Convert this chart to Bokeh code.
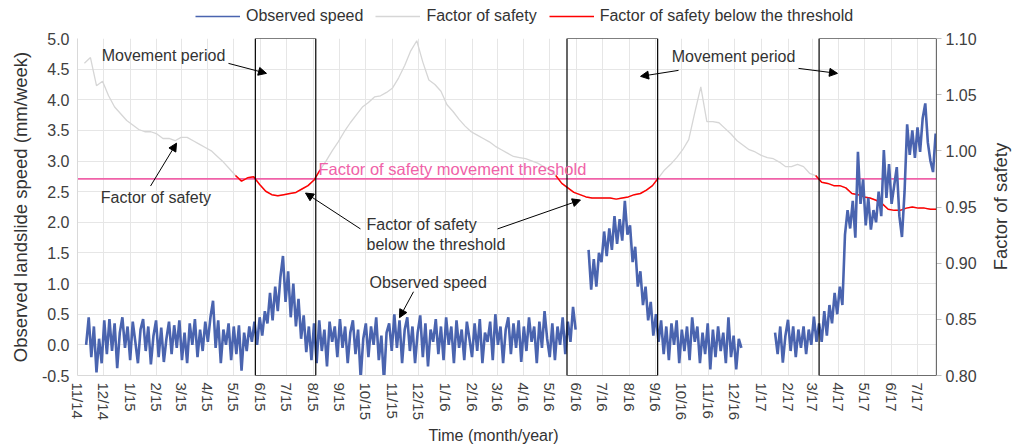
import numpy as np
import pandas as pd
from math import pi
from bokeh.plotting import figure
from bokeh.layouts import column, row
from bokeh.models import (Range1d, LinearAxis, SingleIntervalTicker, MonthsTicker,
                          DatetimeTickFormatter, NumeralTickFormatter, BoxAnnotation,
                          Span, Label, Arrow, NormalHead, Legend, LegendItem, ColumnDataSource, Title)
from bokeh.embed import file_html
from bokeh.resources import INLINE

# ---------------- data ----------------
axis_start = "2014-11-01"
axis_end = "2017-07-23"

# factor of safety, weekly samples starting 2014-11-09
fos_start = "2014-11-09"
fos_step_days = 7
fos_values = [
    1.078, 1.083, 1.058, 1.062, 1.049, 1.039, 1.033, 1.027, 1.023, 1.019,
    1.017, 1.017, 1.015, 1.011, 1.011, 1.009, 1.012, 1.012, 1.009, 1.006,
    1.003, 1.000, 0.995, 0.990, 0.984, 0.978, 0.973, 0.976, 0.977, 0.970,
    0.964, 0.961, 0.960, 0.961, 0.962, 0.963, 0.966, 0.969, 0.974, 0.983,
    0.991, 1.000, 1.008, 1.017, 1.025, 1.032, 1.039, 1.043, 1.048, 1.049,
    1.052, 1.056, 1.065, 1.076, 1.089, 1.098, 1.079, 1.063, 1.059, 1.053,
    1.041, 1.035, 1.028, 1.022, 1.017, 1.014, 1.011, 1.008, 1.004, 1.001,
    0.998, 0.995, 0.994, 0.993, 0.991, 0.989, 0.986, 0.983, 0.978, 0.971,
    0.967, 0.963, 0.961, 0.959, 0.958, 0.958, 0.958, 0.958, 0.957, 0.958,
    0.959, 0.961, 0.962, 0.965, 0.969, 0.976, 0.983, 0.988, 0.994, 1.001,
    1.010, 1.034, 1.057, 1.026, 1.026, 1.025, 1.020, 1.015, 1.009, 1.005,
    1.001, 0.999, 0.996, 0.994, 0.993, 0.990, 0.986, 0.986, 0.988, 0.986,
    0.980, 0.978, 0.972, 0.971, 0.969, 0.969, 0.967, 0.962, 0.961, 0.959,
    0.958, 0.956, 0.953, 0.948, 0.947, 0.947, 0.949, 0.950, 0.949, 0.949,
    0.948, 0.948,
]
fos_threshold = 0.975

# observed speed (mm/week), samples every 3 days, three recorded segments
speed_step_days = 3
speed1_start = "2014-11-11"
speed1 = [
    0.00, 0.45, -0.20, 0.30, -0.45, 0.10, -0.30, 0.40, -0.15, 0.42,
    -0.10, 0.35, -0.38, 0.20, 0.45, -0.05, 0.30, -0.25, 0.38, 0.05,
    -0.30, 0.25, 0.42, -0.10, 0.30, -0.32, 0.15, 0.40, -0.20, 0.28,
    -0.28, 0.10, 0.38, -0.15, 0.32, -0.05, 0.40, -0.25, 0.20, -0.30,
    0.35, 0.00, 0.42, -0.20, 0.25, -0.10, 0.38, 0.05, 0.45, 0.72,
    -0.05, 0.40, -0.30, 0.25, 0.00, 0.35, -0.25, 0.30, -0.15, 0.32,
    -0.42, 0.20, -0.10, 0.30, 0.05, 0.38, 0.00, 0.45, 0.15, 0.55,
    0.35, 0.85, 0.40, 0.95, 0.55, 1.10, 1.45, 0.70, 1.20, 0.45,
    1.00, 0.30, 0.75, 0.10, 0.48, -0.12, 0.30, -0.25, 0.35, -0.30,
    0.40, -0.10, 0.25, -0.35, 0.38, 0.05, 0.30, -0.20, 0.42, -0.05,
    0.30, -0.30, 0.20, 0.40, -0.15, 0.25, -0.55, 0.10, 0.35, -0.20,
    0.30, 0.00, 0.45, -0.25, 0.15, -0.60, 0.20, 0.35, -0.10, 0.50,
    -0.05, 0.40, -0.30, 0.25, 0.45, -0.10, 0.30, -0.30, 0.20, 0.48,
    -0.20, 0.35, -0.35, 0.25, 0.05, 0.42, -0.15, 0.30, -0.25, 0.45,
    0.00, 0.30, -0.30, 0.40, -0.05, 0.25, -0.25, 0.38, 0.10, -0.20,
    0.35, -0.10, 0.42, -0.30, 0.20, 0.05, 0.38, -0.25, 0.50, 0.00,
    0.30, -0.30, 0.25, 0.45, -0.15, 0.35, -0.05, 0.40, -0.28, 0.30,
    -0.10, 0.45, 0.05, 0.30, -0.30, 0.38, -0.05, 0.55, 0.10, -0.20,
    0.35, -0.25, 0.30, 0.00, 0.45, -0.15, 0.38, 0.05, 0.62, 0.25,
]
speed2_start = "2016-06-15"
speed2 = [
    1.55, 0.90, 1.40, 0.95, 1.50, 1.35, 1.85, 1.45, 1.90, 1.55,
    2.10, 1.65, 2.05, 1.70, 2.35, 1.80, 1.95, 1.35, 1.60, 0.95,
    1.20, 0.65, 0.95, 0.40, 0.70, 0.15, 0.50, 0.05, 0.40, -0.15,
    0.30, -0.25, 0.35, 0.00, 0.40, -0.30, 0.25, -0.10, 0.30, -0.25,
    0.45, 0.05, 0.30, -0.30, 0.20, -0.15, 0.35, -0.40, 0.25, -0.20,
    0.30, -0.10, 0.20, -0.30, 0.45, -0.20, 0.15, -0.40, 0.10, -0.05,
]
speed3_start = "2017-01-17"
speed3 = [
    0.20, -0.15, 0.30, -0.29, 0.15, 0.41, -0.10, 0.30, -0.20, 0.25,
    -0.05, 0.30, -0.15, 0.25, 0.00, 0.46, 0.05, 0.35, 0.05, 0.55,
    0.15, 0.65, 0.35, 0.85, 0.50, 0.95, 0.65, 1.80, 2.20, 1.90,
    2.35, 1.75, 3.15, 2.30, 2.70, 1.95, 2.40, 1.88, 2.20, 2.00,
    2.50, 2.10, 3.18, 2.40, 2.95, 2.30, 2.60, 2.90, 2.10, 1.76,
    2.50, 3.60, 3.10, 3.50, 3.05, 3.55, 3.15, 3.70, 3.94, 3.30,
    3.00, 2.82, 3.45,
]

movement_starts = ["2015-05-26", "2016-05-21", "2017-03-09"]
movement_ends = ["2015-08-04", "2016-09-03", "2017-07-23"]

series_names = ["Observed speed", "Factor of safety", "Factor of safety below the threshold"]

# ---------------- styles ----------------
FONT = "Liberation Sans"
BLUE = "#4A64AF"
GREY_LINE = "#D6D6D6"
RED = "#FF0000"
PINK = "#F062A8"
TXT = "#333333"
GRID = "#E6E6E6"

LEG_H = 26          # legend strip height
MAIN_H = 444 - LEG_H
TITLE_W = 36        # strip for the right axis title
MAIN_W = 1021 - TITLE_W
B_LEFT, B_TOP, B_BOTTOM = 77, 38 - LEG_H, 68
B_RIGHT = MAIN_W - 936

origin = pd.Timestamp(axis_start)


def ms(days):
    return (origin + pd.Timedelta(days=days)).value / 1e6


def ms_date(s):
    return pd.Timestamp(s).value / 1e6


# ---------------- derived series ----------------
fos_dates = pd.date_range(fos_start, periods=len(fos_values), freq=f"{fos_step_days}D")
fos = np.array(fos_values, dtype=float)
below = fos < fos_threshold
near = below.copy()
near[1:] |= below[:-1]
near[:-1] |= below[1:]
fos_red = np.where(near, fos, np.nan)

sp_x, sp_y = [], []
for st, vals in [(speed1_start, speed1), (speed2_start, speed2), (speed3_start, speed3)]:
    d = pd.date_range(st, periods=len(vals), freq=f"{speed_step_days}D")
    sp_x.extend(list(d))
    sp_y.extend(vals)
    sp_x.append(d[-1] + pd.Timedelta(days=1))
    sp_y.append(np.nan)

fos_src = ColumnDataSource(dict(x=fos_dates, y=fos, r=fos_red))
sp_src = ColumnDataSource(dict(x=pd.to_datetime(sp_x), y=np.array(sp_y, dtype=float)))

styles = [dict(line_color=BLUE, line_width=2.6), dict(line_color=GREY_LINE, line_width=1.3),
          dict(line_color=RED, line_width=1.5)]
swatch_styles = [dict(line_color=BLUE, line_width=1.5), dict(line_color=GREY_LINE, line_width=1.3),
                 dict(line_color=RED, line_width=1.5)]

# ---------------- legend strip (top) ----------------
leg = figure(width=1021, height=LEG_H, x_range=Range1d(0, 1), y_range=Range1d(0, 1),
             output_backend="svg", toolbar_location=None,
             min_border_left=B_LEFT, min_border_right=1021 - 936, min_border_top=0, min_border_bottom=0,
             x_axis_location=None, y_axis_location=None)
leg.outline_line_color = None
leg.grid.visible = False
leg_items = []
for name, st in zip(series_names, swatch_styles):
    r = leg.line(x=[0.5], y=[-5.0], **st)   # legend swatch only, outside the strip's range
    leg_items.append(LegendItem(label=name, renderers=[r]))
leg.add_layout(Legend(items=leg_items, orientation="horizontal", location=(118, 0),
                      padding=0, margin=0, spacing=12, label_standoff=6,
                      glyph_width=45, glyph_height=20, label_height=20, border_line_color=None,
                      background_fill_alpha=0, label_text_font=FONT, label_text_font_size="16px",
                      label_text_color=TXT), "center")

# ---------------- main figure ----------------
p = figure(width=MAIN_W, height=MAIN_H, x_axis_type="datetime",
           x_range=Range1d(ms_date(axis_start), ms_date(axis_end)),
           y_range=Range1d(-0.5, 5.0),
           output_backend="svg", toolbar_location=None,
           min_border_left=B_LEFT, min_border_right=B_RIGHT, min_border_top=B_TOP,
           min_border_bottom=B_BOTTOM)
p.outline_line_color = None
p.background_fill_color = "white"
p.extra_y_ranges = {"fos": Range1d(0.80, 1.10)}

# axes
p.xaxis.ticker = MonthsTicker(months=list(range(1, 13)))
p.xaxis.formatter = DatetimeTickFormatter(months="%-m/%y", days="%-m/%y", years="%-m/%y")
p.xaxis.major_label_orientation = "vertical"
p.yaxis.ticker = SingleIntervalTicker(interval=0.5, num_minor_ticks=0)
p.yaxis.formatter = NumeralTickFormatter(format="0.0")
p.yaxis.axis_label = "Observed landslide speed (mm/week)"

right = LinearAxis(y_range_name="fos", ticker=SingleIntervalTicker(interval=0.05, num_minor_ticks=0),
                   formatter=NumeralTickFormatter(format="0.00"))
p.add_layout(right, "right")

for ax in [p.xaxis[0], p.yaxis[0], right]:
    ax.axis_line_color = "#D9D9D9"
    ax.minor_tick_line_color = None
    ax.major_label_text_font = FONT
    ax.major_label_text_color = "#404040"
    ax.axis_label_text_font = FONT
    ax.axis_label_text_font_style = "normal"
    ax.axis_label_text_color = TXT
    ax.axis_label_text_font_size = "18.5px"

p.xaxis.major_label_text_font_size = "15px"
p.xaxis.major_tick_line_color = None
p.xaxis.major_tick_out = 2
p.xaxis.major_tick_in = 0
p.xaxis.major_label_standoff = 5

p.yaxis[0].major_label_text_font_size = "16px"
p.yaxis[0].major_tick_line_color = None
p.yaxis[0].major_tick_out = 3
p.yaxis[0].major_tick_in = 0
p.yaxis[0].major_label_standoff = 5
p.yaxis[0].axis_label_standoff = 8

right.major_label_text_font_size = "16px"
right.major_tick_line_color = "#BFBFBF"
right.major_tick_out = 5
right.major_tick_in = 0
right.major_label_standoff = 4

p.xgrid.grid_line_color = GRID
p.ygrid.grid_line_color = GRID

# threshold line
p.add_layout(Span(location=fos_threshold, dimension="width", y_range_name="fos",
                  line_color=PINK, line_width=1.8, level="underlay"))

# series
r_grey = p.line("x", "y", source=fos_src, y_range_name="fos", **styles[1])
r_red = p.line("x", "r", source=fos_src, y_range_name="fos", **styles[2])
r_blue = p.line("x", "y", source=sp_src, **styles[0])

# movement periods
for s, e in zip(movement_starts, movement_ends):
    p.add_layout(BoxAnnotation(left=ms_date(s), right=ms_date(e), fill_color=None, fill_alpha=0,
                               line_color="black", line_alpha=1.0, line_width=1.2))


# annotations
def text(x, y, t, align="center", color=TXT, size="16px"):
    p.add_layout(Label(x=x, y=y, text=t, text_align=align, text_baseline="middle",
                       text_font=FONT, text_font_size=size, text_color=color))


def arrow(d0, v0, d1, v1):
    p.add_layout(Arrow(x_start=ms(d0), y_start=v0, x_end=ms(d1), y_end=v1,
                       line_color="black", line_width=1,
                       end=NormalHead(size=8, fill_color="black", line_color="black", line_width=1)))


text(ms(99.6), 4.72, "Movement period")
text(ms(759.9), 4.71, "Movement period")
text(ms(90.9), 2.40, "Factor of safety")
text(ms(334.8), 1.957, "Factor of safety", align="left")
text(ms(334.8), 1.632, "below the threshold", align="left")
text(ms(338.2), 1.013, "Observed speed", align="left")
text(ms(279.2), 2.869, "Factor of safety movement threshold", align="left", color=PINK, size="16.5px")

arrow(174.9, 4.594, 218.9, 4.431)
arrow(696.2, 4.480, 652.2, 4.382)
arrow(835.2, 4.512, 880.3, 4.431)
arrow(84.6, 2.592, 114.7, 3.292)
arrow(327.8, 1.892, 264.1, 2.478)
arrow(486.5, 1.892, 582.6, 2.364)
arrow(389.2, 0.867, 373.0, 0.444)

# x axis title below the tick labels
p.add_layout(Title(text="Time (month/year)", align="left", offset=351, standoff=2,
                   text_font=FONT, text_font_size="16px", text_font_style="normal",
                   text_color=TXT), "below")

# ---------------- right axis title strip ----------------
t = figure(width=TITLE_W, height=MAIN_H, x_range=Range1d(0, 1), y_range=Range1d(0, 1),
           output_backend="svg", toolbar_location=None,
           min_border_left=0, min_border_right=0, min_border_top=B_TOP, min_border_bottom=B_BOTTOM,
           x_axis_location=None, y_axis_location=None)
t.outline_line_color = None
t.grid.visible = False
t.add_layout(Label(x=15, y=(376 - 38) / 2, x_units="screen", y_units="screen", angle=pi / 2,
                   text="Factor of safety", text_align="center", text_baseline="middle",
                   text_font=FONT, text_font_size="18.5px", text_color=TXT))

layout = column(leg, row(p, t, spacing=0), spacing=0)
open("out.html", "w").write(file_html(layout, INLINE))
